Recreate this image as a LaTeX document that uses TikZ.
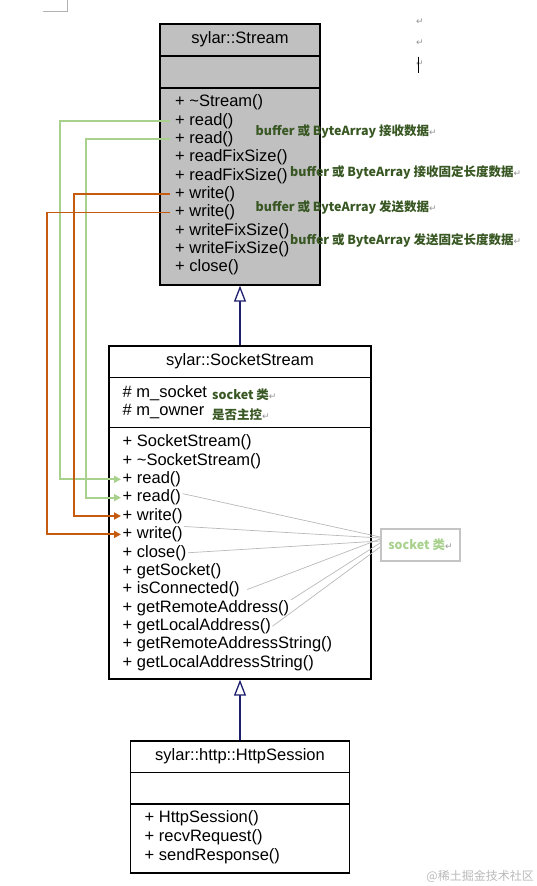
\documentclass[tikz,border=0pt]{standalone}
\usepackage{fontspec}
\setmainfont{Liberation Sans}
\newfontfamily\cjk{Noto Sans CJK SC}
\newfontfamily\symb{DejaVu Sans}
\usepackage{xcolor}
\definecolor{streamgray}{RGB}{192,192,192}
\definecolor{readgreen}{RGB}{169,209,142}
\definecolor{writeorange}{RGB}{197,90,17}
\definecolor{notegreen}{RGB}{56,87,35}
\definecolor{inheritblue}{RGB}{31,31,112}
\definecolor{notegray}{RGB}{196,196,196}
\usetikzlibrary{arrows.meta}
\newcommand{\retmark}{{\symb\mdseries\fontsize{9}{9}\selectfont\color{gray!85}↵}}
\tikzset{
	classbox/.style={draw=black, line width=1.4pt, inner sep=0pt},
	member/.style={anchor=base west, inner xsep=1.5pt, inner ysep=0pt, font=\fontsize{16.5}{18}\selectfont},
	classname/.style={anchor=base, inner sep=0pt, font=\fontsize{16.5}{18}\selectfont},
	note/.style={anchor=base west, inner sep=0pt, text=notegreen, font=\cjk\bfseries\fontsize{12.5}{14}\selectfont},
	readline/.style={draw=readgreen, line width=1.8pt, -{Triangle[length=7pt,width=7pt]}},
	writeline/.style={draw=writeorange, line width=1.8pt, -{Triangle[length=7pt,width=7pt]}},
	inherits/.style={draw=inheritblue, line width=1.3pt, -{Triangle[open,length=16pt,width=12pt,fill=white]}},
	usesline/.style={draw=gray!55, line width=0.7pt}
}

\begin{document}
\begin{tikzpicture}[x=1pt, y=-1pt]
	\useasboundingbox (0,0) rectangle (536,886);
	
	% page corner
	\draw[gray!60, line width=0.8pt] (43,11) -- (67,11) -- (67,0);
	
	% sylar::Stream
	\node[classbox, fill=streamgray, minimum width=160pt, minimum height=261pt] (stream) at (240,154.5) {};
	\draw[line width=1.4pt] (stream.west |- 0,56) -- (stream.east |- 0,56);
	\draw[line width=1.4pt] (stream.west |- 0,88) -- (stream.east |- 0,88);
	\node[classname] (stream-name) at (240,43) {sylar::Stream};
	\foreach \m [count=\i] in {\textasciitilde Stream(), read(), read(), readFixSize(), readFixSize(), write(), write(), writeFixSize(), writeFixSize(), close()}
		\node[member] (st-\i) at (173.5,{106.8+18.33*(\i-1)}) {+ \m};
	
	% sylar::SocketStream
	\node[classbox, minimum width=262pt, minimum height=333pt] (socket) at (240,512.5) {};
	\draw[line width=1.4pt] (socket.west |- 0,377.3) -- (socket.east |- 0,377.3);
	\draw[line width=1.4pt] (socket.west |- 0,427.7) -- (socket.east |- 0,427.7);
	\node[classname] (socket-name) at (240,365) {sylar::SocketStream};
	\node[member] (ss-attr1) at (121,397) {\# m\_socket};
	\node[member] (ss-attr2) at (121,415.5) {\# m\_owner};
	\foreach \m [count=\i] in {SocketStream(), \textasciitilde SocketStream(), read(), read(), write(), write(), close(), getSocket(), isConnected(), getRemoteAddress(), getLocalAddress(), getRemoteAddressString(), getLocalAddressString()}
		\node[member] (ss-\i) at (121,{446.8+18.37*(\i-1)}) {+ \m};
	
	% sylar::http::HttpSession
	\node[classbox, minimum width=219pt, minimum height=132pt] (session) at (240,807) {};
	\draw[line width=1.4pt] (session.west |- 0,772.3) -- (session.east |- 0,772.3);
	\draw[line width=1.4pt] (session.west |- 0,804) -- (session.east |- 0,804);
	\node[classname] (session-name) at (240,760.5) {sylar::http::HttpSession};
	\foreach \m [count=\i] in {HttpSession(), recvRequest(), sendResponse()}
		\node[member] (hs-\i) at (143,{822.8+18.8*(\i-1)}) {+ \m};
	
	% inheritance
	\draw[inherits] (socket.north) -- (stream.south);
	\draw[inherits] (session.north) -- (socket.south);
	
	% read / write forwarding
	\coordinate (rail-read1) at (60,300);
	\coordinate (rail-read2) at (85.8,300);
	\coordinate (rail-write1) at (73.7,300);
	\coordinate (rail-write2) at (47.3,300);
	\draw[readline] ([xshift=-3.7pt]st-2.west) -| (rail-read1) |- (ss-3.west);
	\draw[readline] ([xshift=-3.7pt]st-3.west) -| (rail-read2) |- (ss-4.west);
	\draw[writeline] ([xshift=-3.7pt]st-6.west) -| (rail-write1) |- (ss-5.west);
	\draw[writeline] ([xshift=-3.7pt]st-7.west) -| (rail-write2) |- (ss-6.west);
	
	% notes
	\node[note] (note-read) at (255.5,135.7) {buffer 或 ByteArray 接收数据\retmark};
	\node[note] (note-readfix) at (290,176) {buffer 或 ByteArray 接收固定长度数据\retmark};
	\node[note] (note-write) at (255.5,211) {buffer 或 ByteArray 发送数据\retmark};
	\node[note] (note-writefix) at (290,244.7) {buffer 或 ByteArray 发送固定长度数据\retmark};
	\node[note] (note-socket) at (212,399) {socket 类\retmark};
	\node[note] (note-owner) at (212,419.5) {是否主控\retmark};
	
	% socket class
	\node[draw=notegray, line width=1.8pt, minimum width=79pt, minimum height=32pt, inner sep=0pt, text=readgreen, font=\cjk\bfseries\fontsize{12.5}{14}\selectfont] (sock) at (420.5,545) {socket 类\retmark};
	\draw[usesline] ([yshift=4pt]ss-4.east) -- ([yshift=8pt]sock.west);
	\draw[usesline] (ss-6.north east) -- ([yshift=7pt]sock.west);
	\draw[usesline] (ss-7.east) -- ([yshift=4pt]sock.west);
	\draw[usesline] ([xshift=6pt]ss-9.east) -- ([yshift=6pt]sock.west);
	\draw[usesline] (ss-10.north east) -- ([yshift=2pt]sock.west);
	\draw[usesline] (ss-11.east) -- ([yshift=-2pt]sock.west);
	
	% top right marks
	\foreach \y [count=\i] in {22,43,64}
		\node[inner sep=0pt] (ret-\i) at (420,\y) {\retmark};
	\draw[line width=0.8pt] (418.5,56.7) -- (418.5,73.3);
	
	% watermark
	\node[anchor=east, inner sep=0pt, text=gray!55, font=\cjk\fontsize{12}{12}\selectfont] (mark) at (534,876) {@稀土掘金技术社区};
\end{tikzpicture}
\end{document}
